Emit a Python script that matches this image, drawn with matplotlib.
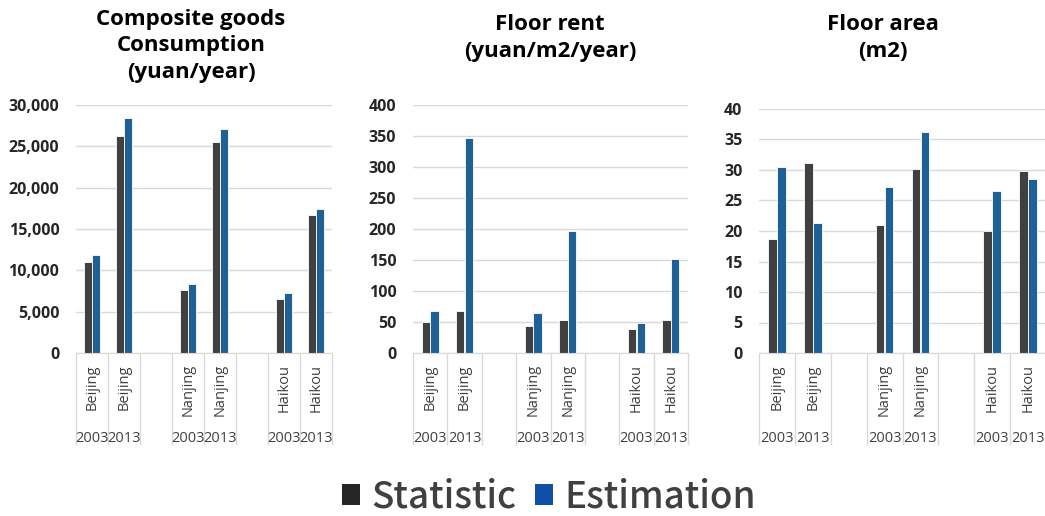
import numpy as np
import matplotlib
matplotlib.use("Agg")
import matplotlib.pyplot as plt
from matplotlib.patches import Patch
from matplotlib.ticker import FuncFormatter

plt.rcParams['font.family'] = ['Open Sans', 'DejaVu Sans']

# city / year categories
cities = ["Beijing", "Nanjing", "Haikou"]
years = ["2003", "2013"]

# values in order: Beijing 2003, Beijing 2013, Nanjing 2003, Nanjing 2013, Haikou 2003, Haikou 2013
consumption_stat = [11050, 26200, 7650, 25550, 6520, 16750]
consumption_est = [11800, 28400, 8300, 27100, 7250, 17400]
rent_stat = [50, 67, 43, 53, 39, 53]
rent_est = [67, 347, 65, 197, 48, 151]
area_stat = [18.7, 31.2, 21.0, 30.2, 20.0, 29.9]
area_est = [30.5, 21.3, 27.2, 36.3, 26.6, 28.5]

titles = ["Composite goods\nConsumption\n(yuan/year)", "Floor rent\n(yuan/m2/year)", "Floor area\n(m2)"]
ymax = [30000, 400, 40]
ystep = [5000, 50, 5]

STAT_C = "#404040"
EST_C = "#1F6096"
GRID_C = "#d9d9d9"

W, H = 1045, 516
fig = plt.figure(figsize=(W / 100, H / 100), dpi=100)

# axes boxes in pixels: left, right, top (y max), bottom (zero line)
boxes = [(76, 332, 105, 353), (413, 688, 105, 353), (759, 1046, 109, 353)]
title_pos = [(191, 46), (550, 38), (883, 38)]

panels = [(consumption_stat, consumption_est), (rent_stat, rent_est), (area_stat, area_est)]

# slot index for each city/year, leaving an empty slot between cities
slots = [c * 3 + y for c in range(len(cities)) for y in range(len(years))]

for k, (stat, est) in enumerate(panels):
    l, r, t, b = boxes[k]
    ax = fig.add_axes([l / W, 1 - b / H, (r - l) / W, (b - t) / H])
    hpx = b - t
    x = np.array(slots)
    ax.bar(x - 0.125, stat, width=0.245, color=STAT_C, edgecolor="white", linewidth=0.6, zorder=3)
    ax.bar(x + 0.125, est, width=0.245, color=EST_C, edgecolor="white", linewidth=0.6, zorder=3)

    ax.set_xlim(-0.5, 7.5)
    ax.set_ylim(0, ymax[k])
    ax.set_yticks(np.arange(0, ymax[k] + ystep[k] / 2, ystep[k]))
    ax.yaxis.set_major_formatter(FuncFormatter(lambda v, p: f"{v:,.0f}"))
    ax.grid(axis="y", color=GRID_C, linewidth=1, zorder=0)
    for s in ["top", "right", "left"]:
        ax.spines[s].set_visible(False)
    ax.spines["bottom"].set_color(GRID_C)
    ax.spines["bottom"].set_zorder(4)
    ax.tick_params(axis="y", length=0, pad=12, labelsize=11.5, labelcolor="#262626")
    for lab in ax.get_yticklabels():
        lab.set_fontweight("bold")
    ax.set_xticks([])

    # multi-level category axis: separators, city names, years
    trans = ax.get_xaxis_transform()
    ax.vlines(np.arange(-0.5, 8.0, 1.0), -92 / hpx, 0, transform=trans,
              color=GRID_C, linewidth=1, clip_on=False)
    for i, s in enumerate(slots):
        city = cities[i // len(years)]
        year = years[i % len(years)]
        ax.text(s, -11 / hpx, city, transform=trans, rotation=90, ha="center", va="top",
                fontsize=10.5, color="#404040")
        ax.text(s, -85 / hpx, year, transform=trans, ha="center", va="center",
                fontsize=10.5, color="#404040")

    tx, ty = title_pos[k]
    fig.text(tx / W, 1 - ty / H, titles[k], ha="center", va="center", fontsize=16,
             fontweight="bold", color="black", linespacing=1.35)

handles = [Patch(facecolor="#262626", label="Statistic"), Patch(facecolor="#0F4FA5", label="Estimation")]
leg = fig.legend(handles=handles, loc="center", bbox_to_anchor=(549 / W, 1 - 497 / H), ncol=2,
                 frameon=False,
                 prop={"family": ["Noto Sans CJK JP", "DejaVu Sans"], "size": 26.5, "weight": "medium"},
                 handlelength=0.5, handleheight=0.5, handletextpad=0.3, columnspacing=0.5,
                 labelcolor="#404040", borderpad=0)

fig.savefig("out.png", dpi=100)
